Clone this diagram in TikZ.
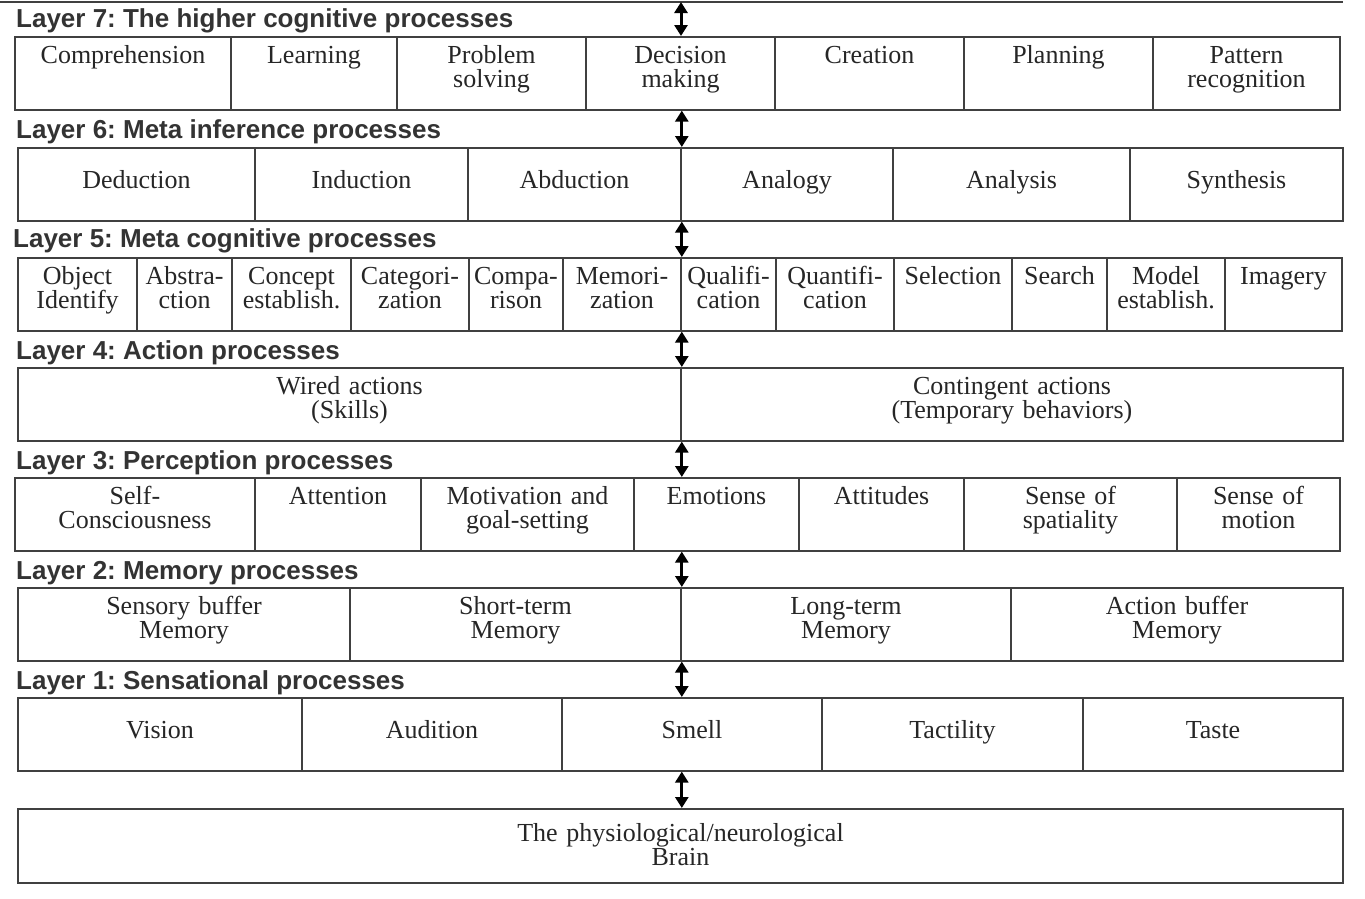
\documentclass[tikz,border=0pt]{standalone}
\usepackage{fontspec}
\setmainfont{Liberation Serif}
\setsansfont{Liberation Sans}
\usetikzlibrary{arrows.meta}
\frenchspacing
\begin{document}
\begin{tikzpicture}[x=1pt,y=-1pt,
    box/.style={draw=black!75,line width=1.6pt,anchor=north,inner sep=0pt,align=center,
      text=black!85,font=\fontsize{26}{24}\selectfont},
    cell/.style={box,text height=27pt,text depth=46pt},
    midcell/.style={box,text height=41pt,text depth=32pt},
    layertitle/.style={anchor=base west,inner sep=0pt,text=black!80,
      font=\sffamily\bfseries\fontsize{26}{30}\selectfont},
    updown/.style={<->,>={Triangle[length=11pt,width=13pt]},line width=3pt}]
  \useasboundingbox (0,0) rectangle (1365,898);
  \coordinate (prevl) at (0,2);
  \coordinate (prevm) at (681,2);
  \coordinate (prevr) at (1343,2);
  \draw[draw=black!75,line width=1.6pt] (prevl) -- (prevr);
  \path
    (16,27) node[layertitle] (t7) {Layer 7: The higher cognitive processes}
    (16,138) node[layertitle] (t6) {Layer 6: Meta inference processes}
    (13,247) node[layertitle] (t5) {Layer 5: Meta cognitive processes}
    (16,359) node[layertitle] (t4) {Layer 4: Action processes}
    (16,469) node[layertitle] (t3) {Layer 3: Perception processes}
    (16,579) node[layertitle] (t2) {Layer 2: Memory processes}
    (16,689) node[layertitle] (t1) {Layer 1: Sensational processes};
  \path
    (123,36) node[cell,text width=216pt] (compr) {Comprehension}
    (314,36) node[cell,text width=166pt] (learn) {Learning}
    (491.5,36) node[cell,text width=189pt] (prob) {Problem\\solving}
    (680.5,36) node[cell,text width=189pt] (dec) {Decision\\making}
    (869.5,36) node[cell,text width=189pt] (creat) {Creation}
    (1058.5,36) node[cell,text width=189pt] (plan) {Planning}
    (1246.5,36) node[cell,text width=187pt] (pattern) {Pattern\\recognition};
  \path
    (136.5,147) node[midcell,text width=237pt] (deduc) {Deduction}
    (361.5,147) node[midcell,text width=213pt] (induc) {Induction}
    (574.5,147) node[midcell,text width=213pt] (abd) {Abduction}
    (787,147) node[midcell,text width=212pt] (analog) {Analogy}
    (1011.5,147) node[midcell,text width=237pt] (analys) {Analysis}
    (1236.5,147) node[midcell,text width=213pt] (synth) {Synthesis};
  \path
    (77.5,257) node[cell,text width=119pt] (obj) {Object\\Identify}
    (184.5,257) node[cell,text width=95pt] (abstr) {Abstra-\\ction}
    (291.5,257) node[cell,text width=119pt] (concept) {Concept\\establish.}
    (410,257) node[cell,text width=118pt] (categ) {Categori-\\zation}
    (516,257) node[cell,text width=94pt] (compar) {Compa-\\rison}
    (622,257) node[cell,text width=118pt] (memo) {Memori-\\zation}
    (728.5,257) node[cell,text width=95pt] (qualif) {Qualifi-\\cation}
    (835,257) node[cell,text width=118pt] (quantif) {Quantifi-\\cation}
    (953,257) node[cell,text width=118pt] (select) {Selection}
    (1059.5,257) node[cell,text width=95pt] (search) {Search}
    (1166,257) node[cell,text width=118pt] (model) {Model\\establish.}
    (1283.5,257) node[cell,text width=117pt] (imag) {Imagery};
  \path
    (349.5,367) node[cell,text width=663pt] (wired) {Wired actions\\(Skills)}
    (1012,367) node[cell,text width=662pt] (conting) {Contingent actions\\(Temporary behaviors)};
  \path
    (135,477) node[cell,text width=240pt] (selfc) {Self-\\Consciousness}
    (338,477) node[cell,text width=166pt] (atten) {Attention}
    (527.5,477) node[cell,text width=213pt] (motiv) {Motivation and\\goal-setting}
    (716.5,477) node[cell,text width=165pt] (emo) {Emotions}
    (881.5,477) node[cell,text width=165pt] (attit) {Attitudes}
    (1070.5,477) node[cell,text width=213pt] (spat) {Sense of\\spatiality}
    (1258.5,477) node[cell,text width=163pt] (motion) {Sense of\\motion};
  \path
    (184,587) node[cell,text width=332pt] (sensory) {Sensory buffer\\Memory}
    (515.5,587) node[cell,text width=331pt] (short) {Short-term\\Memory}
    (846,587) node[cell,text width=330pt] (long) {Long-term\\Memory}
    (1177,587) node[cell,text width=332pt] (actbuf) {Action buffer\\Memory};
  \path
    (160,697) node[midcell,text width=284pt] (vision) {Vision}
    (432,697) node[midcell,text width=260pt] (audit) {Audition}
    (692,697) node[midcell,text width=260pt] (smell) {Smell}
    (952.5,697) node[midcell,text width=261pt] (tact) {Tactility}
    (1213,697) node[midcell,text width=260pt] (taste) {Taste};
  \path
    (680.5,808) node[box,text height=33pt,text depth=41pt,text width=1325pt] (brain) {The physiological/neurological\\Brain};
  \begin{scope}[updown]
    \draw (prevm) to (prevm |- dec.north);
    \draw (abd.north east |- dec.south) to (abd.north east);
    \draw (abd.south east) to (memo.north east);
    \draw (memo.south east) to (wired.north east);
    \draw (wired.south east) to (wired.south east |- emo.north);
    \draw (short.north east |- emo.south) to (short.north east);
    \draw (short.south east) to (short.south east |- smell.north);
    \draw (short.south east |- smell.south) to (short.south east |- brain.north);
  \end{scope}
\end{tikzpicture}
\end{document}
